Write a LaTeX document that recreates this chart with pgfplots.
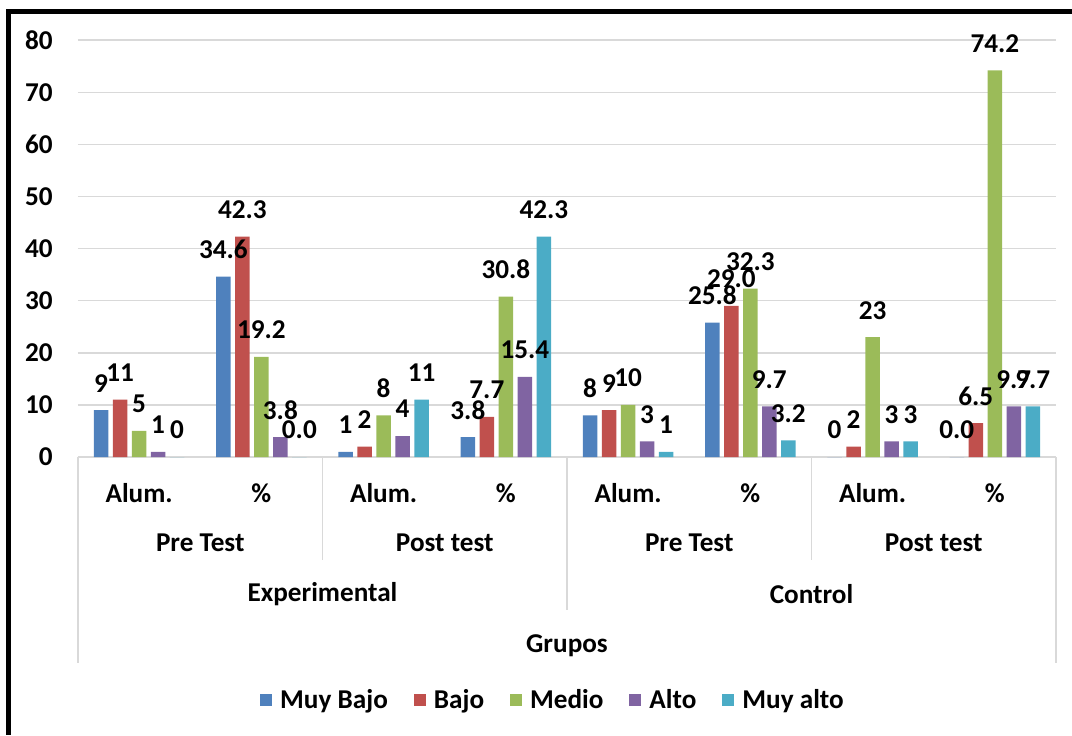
\documentclass[border=0pt]{standalone}
\usepackage{fontspec}
\setmainfont{Carlito}
\usepackage{pgfplots}
\pgfplotsset{compat=1.18}
\definecolor{cA}{HTML}{4F81BD}
\definecolor{cB}{HTML}{C0504D}
\definecolor{cC}{HTML}{9BBB59}
\definecolor{cD}{HTML}{8064A2}
\definecolor{cE}{HTML}{4BACC6}
\definecolor{gridc}{HTML}{D9D9D9}
\newcommand{\lbl}{\bfseries\fontsize{13.6}{15}\selectfont}
\begin{document}
\begin{tikzpicture}
\begin{axis}[
  at={(39pt,-228.5pt)}, anchor=south west,
  scale only axis, width=489pt, height=208.4pt,
  xmin=-0.5, xmax=7.5, ymin=0, ymax=80,
  ytick={0,10,...,80}, xtick=\empty,
  axis line style={draw=none},
  major tick length=0pt,
  ymajorgrids, major grid style={color=gridc, line width=0.75pt},
  /pgf/number format/assume math mode=true,
  yticklabel style={font=\lbl, anchor=east, inner sep=0pt, xshift=-12.5pt},
  ybar=2.3pt, bar width=7.2pt,
  clip=false,
  point meta=explicit symbolic,
  nodes near coords={\pgfplotspointmeta},
  every node near coord/.append style={font=\lbl, anchor=center, inner sep=0pt, yshift=13.5pt, text=black},
  legend columns=5,
  legend style={draw=none, fill=none, at={(rel axis cs:0.4867,-0.583)}, anchor=center, font=\lbl,
    /tikz/every odd column/.append style={column sep=2pt},
    /tikz/every even column/.append style={column sep=11pt}},
  legend image code/.code={\fill[#1] (0pt,-3pt) rectangle (6pt,3pt);},
]
\addplot[fill=cA, draw=none] coordinates {(0,9)[9] (1,34.6)[34.6] (2,1)[1] (3,3.8)[3.8] (4,8)[8] (5,25.8)[25.8] (6,0)[0] (7,0)[0.0]};
\addplot[fill=cB, draw=none] coordinates {(0,11)[11] (1,42.3)[42.3] (2,2)[2] (3,7.7)[7.7] (4,9)[9] (5,29.0)[29.0] (6,2)[2] (7,6.5)[6.5]};
\addplot[fill=cC, draw=none] coordinates {(0,5)[5] (1,19.2)[19.2] (2,8)[8] (3,30.8)[30.8] (4,10)[10] (5,32.3)[32.3] (6,23)[23] (7,74.2)[74.2]};
\addplot[fill=cD, draw=none] coordinates {(0,1)[1] (1,3.8)[3.8] (2,4)[4] (3,15.4)[15.4] (4,3)[3] (5,9.7)[9.7] (6,3)[3] (7,9.7)[9.7]};
\addplot[fill=cE, draw=none] coordinates {(0,0)[0] (1,0)[0.0] (2,11)[11] (3,42.3)[42.3] (4,1)[1] (5,3.2)[3.2] (6,3)[3] (7,9.7)[9.7]};
\legend{Muy Bajo, Bajo, Medio, Alto, Muy alto}
\end{axis}
\begin{scope}[x=0.5pt, y=-0.5pt]
  % frame
  \fill[black] (6,9) rectangle (1072,14);
  \fill[black] (6,9) rectangle (11,735);
  % separators
  \begin{scope}[draw=gridc, line width=0.75pt]
    \draw (78,457) -- (78,663);
    \draw (322.5,457) -- (322.5,560);
    \draw (567,457) -- (567,610);
    \draw (811.5,457) -- (811.5,560);
    \draw (1056,457) -- (1056,663);
  \end{scope}
  \begin{scope}[every node/.style={font=\lbl, inner sep=0pt, anchor=center}]
    \foreach \x in {139.1,383.6,628.1,872.6} \node at (\x,493) {Alum.};
    \foreach \x in {261.4,505.9,750.4,994.9} \node at (\x,493) {\%};
    \node at (200.25,543) {Pre Test};
    \node at (444.75,543) {Post test};
    \node at (689.25,543) {Pre Test};
    \node at (933.75,543) {Post test};
    \node at (322.5,594) {Experimental};
    \node at (811.5,594) {Control};
    \node at (567,646) {Grupos};
  \end{scope}
\end{scope}
\pgfresetboundingbox
\path[use as bounding box] (0,0) rectangle (536pt,-367.5pt);
\end{tikzpicture}
\end{document}
